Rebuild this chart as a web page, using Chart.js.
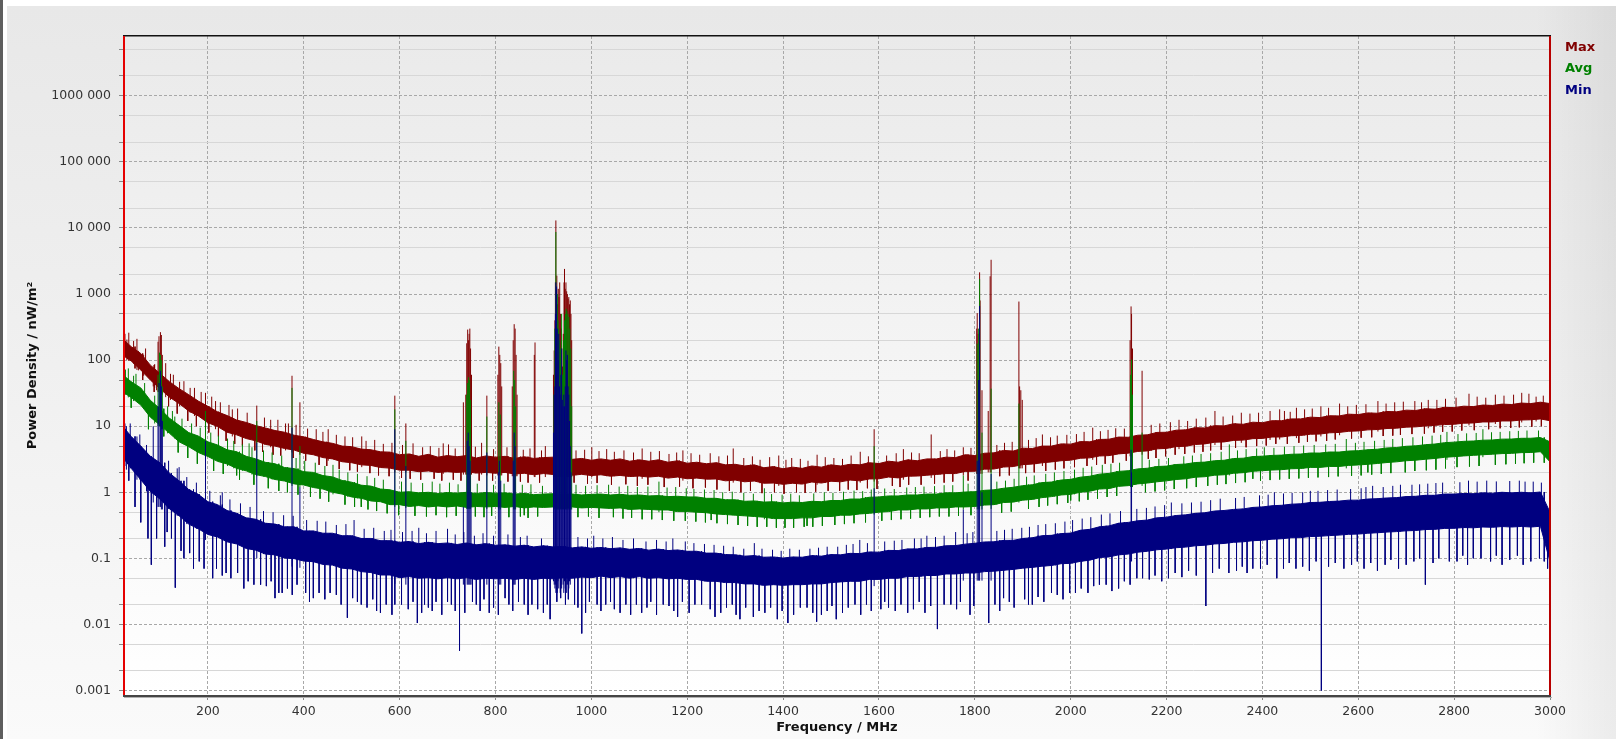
<!DOCTYPE html>
<html><head><meta charset="utf-8">
<script src="https://cdn.jsdelivr.net/npm/chart.js@4.4.0/dist/chart.umd.min.js"></script>
<style>
html,body{margin:0;padding:0;width:1616px;height:739px;overflow:hidden;background:#fff;}
#edge{position:absolute;left:0;top:0;width:3px;height:739px;background:#5e5e5e;}
#panel{position:absolute;left:7px;top:6px;right:0;bottom:0;
 background:linear-gradient(to right, rgba(0,0,0,0) 95%, rgba(0,0,0,0.06) 100%), linear-gradient(to bottom,#e8e8e8 0%,#f1f1f1 55%,#fafafa 100%);}
canvas{position:absolute;left:0;top:0;}
.leg{position:absolute;left:1565px;font:bold 13px "DejaVu Sans";line-height:15px;white-space:nowrap;}
</style></head><body>
<div id="edge"></div><div id="panel"></div>
<canvas id="c" width="1616" height="739"></canvas>
<div class="leg" style="top:39px;color:#800000">Max</div>
<div class="leg" style="top:60px;color:#008000">Avg</div>
<div class="leg" style="top:82px;color:#000080">Min</div>
<script>
// ---- band sample frequencies (MHz)
const bandFreqs = [25,40,60,80,100,120,140,160,180,200,220,240,260,280,300,320,340,360,380,400,420,440,460,480,500,520,540,560,580,600,620,640,660,680,700,720,740,760,780,800,820,840,860,880,900,920,940,960,980,1000,1020,1040,1060,1080,1100,1120,1140,1160,1180,1200,1220,1240,1260,1280,1300,1320,1340,1360,1380,1400,1420,1440,1460,1480,1500,1520,1540,1560,1580,1600,1620,1640,1660,1680,1700,1720,1740,1760,1780,1800,1820,1840,1860,1880,1900,1920,1940,1960,1980,2000,2020,2040,2060,2080,2100,2120,2140,2160,2180,2200,2220,2240,2260,2280,2300,2320,2340,2360,2380,2400,2420,2440,2460,2480,2500,2520,2540,2560,2580,2600,2620,2640,2660,2680,2700,2720,2740,2760,2780,2800,2820,2840,2860,2880,2900,2920,2940,2960,2980,3000];

// ---- Max series: solid core of the noise band, upper / lower edge (nW/m²)
const maxHi = [200,160,126,84,63, 47,37,30,24,20, 16.5,14.5,12.4,11.4,10.2, 9.4,8.6,8.1,7.3,6.9, 6.3,5.8,5.5,5.0,4.9, 4.5,4.4,4.1,4.05,3.7,
 3.8,3.5,3.75,3.4,3.6, 3.45,3.6,3.3,3.55,3.4, 3.5,3.25,3.45,3.25,3.35, 3.4,3.3,3.15,3.25,3.05, 3.2,3.05,3.2,2.95,3.1, 2.95,3.1,2.85,3.0,2.75,
 2.85,2.7,2.8,2.6,2.65, 2.5,2.6,2.35,2.45,2.27, 2.4,2.3,2.5,2.4,2.6, 2.5,2.65,2.6,2.8,2.72, 2.95,2.85,3.1,3.0,3.2, 3.2,3.4,3.35,3.7,3.6,
 3.9,3.95,4.3,4.2,4.65, 4.6,5.0,5.0,5.4,5.35, 5.85,5.8,6.3,6.35,6.85, 6.8,7.3,7.4,8.05,8.1, 8.7,8.8,9.5,9.4,10.2, 10.1,10.9,10.7,11.5,11.3,
 12.1,12.1,12.9,12.9,13.7, 13.5,14.4,14.3,15.2,15.0, 15.9,15.7,16.7,16.5,17.5, 17.3,18.4,18.1,19.3,19.1, 20.1,19.8,20.9,20.6,21.6, 21.3,22.4,22.0,23.1,22.0];
const maxLo = [115,97,71,50,37, 27.5,22,17,14.3,11.3, 9.9,8.1,7.4,6.5,6.0, 5.3,5.0,4.6,4.35,3.9, 3.7,3.35,3.2,2.9,2.8, 2.6,2.55,2.37,2.32,2.16,
 2.16,2.05,2.1,2.0,2.05, 2.0,2.05,1.95,2.0,1.94, 2.0,1.89,1.94,1.84,1.92, 1.86,1.89,1.81,1.87,1.79, 1.84,1.75,1.8,1.73,1.76, 1.7,1.75,1.64,1.7,1.6,
 1.64,1.58,1.59,1.49,1.53, 1.44,1.48,1.37,1.38,1.32, 1.37,1.33,1.43,1.38,1.47, 1.44,1.53,1.49,1.59,1.6, 1.7,1.65,1.75,1.76,1.81, 1.86,1.92,1.92,2.07,2.08,
 2.24,2.25,2.41,2.45,2.62, 2.67,2.79,2.88,3.0,3.06, 3.27,3.32,3.54,3.59,3.81, 3.91,4.15,4.23,4.54,4.61, 4.91,4.97,5.29,5.4,5.72, 5.78,6.1,6.16,6.48,6.53,
 6.86,6.86,7.18,7.24,7.56, 7.61,7.94,8.05,8.37,8.48, 8.8,8.91,9.23,9.34,9.67, 9.77,10.1,10.3,10.6,10.7, 11.1,11.2,11.6,11.6,12.0, 12.0,12.4,12.5,12.9,12.1];

// ---- Avg series core band
const avgHi = [58,47,38,24.6,18.4, 13.2,10.3,8.0,7.1,5.8, 5.2,4.4,4.1,3.5,3.2, 2.84,2.7,2.37,2.28,2.05, 2.0,1.79,1.71,1.51,1.42, 1.28,1.24,1.12,1.09,1.0,
 1.02,0.98,1.0,0.96,0.99, 0.97,1.0,0.96,0.99,0.97, 0.98,0.94,0.96,0.92,0.94, 0.95,0.92,0.94,0.91,0.93, 0.94,0.91,0.93,0.9,0.91, 0.88,0.89,0.86,0.87,0.85,
 0.85,0.81,0.81,0.77,0.77, 0.73,0.74,0.71,0.72,0.69, 0.71,0.7,0.73,0.72,0.75, 0.75,0.79,0.79,0.84,0.85, 0.88,0.88,0.91,0.91,0.94, 0.94,0.98,0.98,1.01,1.02,
 1.07,1.09,1.15,1.19,1.26, 1.3,1.4,1.43,1.53,1.57, 1.69,1.75,1.88,1.93,2.07, 2.12,2.26,2.31,2.45,2.49, 2.63,2.68,2.82,2.86,3.0, 3.05,3.24,3.28,3.47,3.52,
 3.61,3.65,3.76,3.79,3.93, 3.92,4.07,4.06,4.21,4.26, 4.4,4.48,4.69,4.76,4.97, 5.04,5.25,5.37,5.63,5.74, 5.9,5.97,6.14,6.19,6.37, 6.39,6.56,6.57,6.74,5.8];
const avgLo = [32,27.3,20.9,13.7,10.4, 7.8,5.8,4.9,4.0,3.48, 2.94,2.68,2.3,2.11,1.85, 1.73,1.56,1.48,1.34,1.29, 1.18,1.12,1.0,0.94,0.85, 0.81,0.74,0.72,0.65,0.65,
 0.61,0.63,0.6,0.62,0.6, 0.62,0.59,0.61,0.6,0.61, 0.59,0.61,0.58,0.6,0.59, 0.6,0.58,0.6,0.58,0.59, 0.58,0.57,0.58,0.55,0.56, 0.55,0.54,0.54,0.51,0.51,
 0.5,0.49,0.47,0.46,0.45, 0.44,0.43,0.42,0.4,0.4, 0.4,0.41,0.41,0.43,0.43, 0.45,0.45,0.47,0.48,0.5, 0.51,0.54,0.54,0.56,0.56, 0.58,0.58,0.6,0.6,0.61,
 0.64,0.65,0.7,0.71,0.76, 0.78,0.83,0.86,0.91,0.93, 1.0,1.04,1.12,1.14,1.23, 1.26,1.34,1.38,1.44,1.49, 1.56,1.6,1.69,1.72,1.81, 1.84,1.94,1.98,2.08,2.12,
 2.17,2.2,2.27,2.29,2.38, 2.38,2.46,2.46,2.55,2.59, 2.65,2.73,2.82,2.89,3.0, 3.06,3.16,3.25,3.38,3.46, 3.55,3.62,3.7,3.77,3.85, 3.88,3.98,4.0,4.11,2.9];

// ---- Min series core band
const minHi = [9.5,7.0,5.0,3.5,2.8, 1.94,1.49,1.1,0.93,0.72, 0.65,0.53,0.48,0.41,0.39, 0.34,0.33,0.3,0.3,0.26, 0.26,0.24,0.24,0.22,0.22, 0.2,0.2,0.185,0.185,0.175,
 0.18,0.167,0.175,0.167,0.171, 0.162,0.171,0.16,0.167,0.158, 0.16,0.153,0.158,0.149,0.155, 0.149,0.151,0.144,0.149,0.142, 0.146,0.14,0.144,0.137,0.141, 0.133,0.138,0.131,0.134,0.128,
 0.128,0.12,0.12,0.114,0.113, 0.108,0.11,0.104,0.105,0.101, 0.105,0.104,0.11,0.108,0.114, 0.113,0.119,0.118,0.125,0.124, 0.132,0.131,0.139,0.139,0.146, 0.147,0.155,0.156,0.164,0.169,
 0.177,0.178,0.187,0.187,0.2, 0.205,0.22,0.223,0.237,0.241, 0.266,0.275,0.3,0.31,0.34, 0.35,0.37,0.38,0.41,0.42, 0.445,0.455,0.48,0.49,0.52, 0.53,0.55,0.56,0.59,0.6,
 0.625,0.635,0.66,0.67,0.7, 0.705,0.725,0.735,0.76,0.76, 0.79,0.8,0.82,0.83,0.86, 0.87,0.9,0.9,0.94,0.94, 0.96,0.95,0.98,0.97,1.0, 0.98,1.0,0.98,1.01,0.5];
const minLo = [3.2,2.3,1.55,1.03,0.79, 0.56,0.44,0.33,0.28,0.23, 0.21,0.178,0.165,0.141,0.133, 0.116,0.113,0.101,0.099,0.091, 0.089,0.081,0.079,0.071,0.069, 0.063,0.061,0.056,0.056,0.051,
 0.053,0.05,0.051,0.049,0.051, 0.049,0.051,0.048,0.05,0.049, 0.05,0.048,0.05,0.048,0.05, 0.049,0.051,0.05,0.052,0.051, 0.054,0.051,0.053,0.05,0.053, 0.05,0.051,0.049,0.05,0.048,
 0.048,0.045,0.045,0.043,0.043, 0.041,0.041,0.039,0.04,0.039, 0.04,0.04,0.041,0.041,0.043, 0.044,0.045,0.045,0.048,0.048, 0.05,0.05,0.053,0.053,0.055, 0.055,0.058,0.058,0.06,0.06,
 0.063,0.064,0.066,0.068,0.071, 0.073,0.076,0.078,0.083,0.084, 0.09,0.094,0.103,0.105,0.113, 0.116,0.124,0.128,0.135,0.138, 0.145,0.148,0.155,0.158,0.165, 0.168,0.175,0.178,0.185,0.188,
 0.195,0.198,0.205,0.206,0.214, 0.216,0.221,0.225,0.231,0.233, 0.24,0.244,0.25,0.254,0.261, 0.264,0.273,0.275,0.284,0.285, 0.293,0.29,0.298,0.295,0.303, 0.298,0.304,0.298,0.306,0.09];

// ---- narrow peaks: [frequency MHz, from value, to value]
const maxPeaks = [[27,110,250],[31,100,205],[45,88,195],[55,70,138],[66,58,120],
 [86,40,70],[89,38,87],[93,35,60],[96,33,190],[98,33,230],[101,32,265],[103,31,240],[105,30,120],
 [122,25,62],[141,20,47],[163,16,38],[195,10,32],[216,9,24],[251,7,18],[302,5.5,20.5],[331,4.8,12.5],[362,4.3,11],[375.5,4,58],[392,3.7,23],[451,3,9],[521,2.4,7],[590,2,29],[613,2,11],[691,1.9,5.5],
 [733,1.85,23],[738,1.85,30],[740,1.85,180],[742,1.85,290],[743.5,1.85,200],[745,1.85,250],[746.5,1.85,300],[748,1.85,150],[750,1.85,60],[771,1.85,5.6],[782,1.8,29],
 [805,1.8,60],[807,1.8,160],[809,1.8,120],[811,1.8,90],[813,1.8,40],[835,1.75,40],[837,1.75,200],[839,1.75,350],[841,1.75,300],[843,1.75,120],[845,1.75,30],[881,1.7,120],[882.5,1.7,185],[904,1.7,5],
 [921,1.7,60],[922.5,1.7,140],[924,1.7,400],[925,1.7,1500],[926,1.7,13000],[927,1.7,900],[928,1.7,1900],[929.5,1.7,700],[931,1.7,1200],[932.5,1.7,900],[934,1.7,1500],[935.5,1.7,500],[937,1.7,300],[938.5,1.7,150],[940,1.7,80],[941.5,1.7,250],[943,1.7,1500],[944,1.7,2400],[945.5,1.7,1200],[947,1.7,1500],[948.5,1.7,1100],[950,1.7,1000],[951.5,1.7,850],[953,1.7,900],[954.5,1.7,700],[956,1.7,800],[957.5,1.7,500],[959,1.7,200],
 [1001,1.7,4.8],[1106,1.6,4.6],[1191,1.5,4.3],[1296,1.4,4.6],[1391,1.25,3.6],[1471,1.3,3.7],[1561,1.4,4.1],[1590,1.45,9],[1651,1.55,4.5],[1709,1.65,7.5],[1776,1.8,4.8],
 [1804,1.9,300],[1805,1.9,515],[1807,1.9,250],[1810,1.9,2130],[1811,1.9,800],[1815,1.9,35],[1828,2,17],[1832,2,1860],[1834,2,3300],[1892,2.3,770],[1893.5,2.3,40],[1896,2.3,35],[1899,2.3,25],
 [1941,2.5,7.5],[2046,3.1,9.5],[2124,3.5,200],[2126,3.5,650],[2127,3.5,500],[2129,3.5,150],[2149,3.7,69],[2226,4.5,12.5],[2301,5.2,17],[2356,5.6,16],[2416,6.2,17],[2436,6.3,18],[2471,6.6,19],[2522,7,20],[2561,7.3,22],[2641,8.3,24],[2746,9.3,25],[2831,10.3,31],[2886,10.8,30],[2941,11.4,32],[2971,11.8,28]];

const avgPeaks = [[28,30,72],[45,24,58],[89,11,29],[96,10,60],[99,10,130],[101,10,120],[103,9,100],[105,9,40],
 [131,6.5,14],[195,3.2,17],[241,2.5,6.5],[286,2,5.5],[302,1.75,12],[375.5,1.25,38],[392,1.2,5],[461,0.93,2.6],[590,0.6,18],[613,0.58,6],
 [740,0.56,30],[742,0.56,45],[744,0.56,55],[746,0.56,50],[748,0.56,25],[782,0.56,14],[807,0.55,23],[810,0.55,15],[838,0.55,69],[840,0.55,50],[842,0.55,20],
 [922,0.55,30],[924,0.55,300],[926,0.55,8700],[927.5,0.55,1200],[929,0.55,1000],[930.5,0.55,400],[932,0.55,300],[934,0.55,200],[936,0.55,150],[938,0.55,500],[940,0.55,60],[942,0.55,200],[944,0.55,400],[946,0.55,500],[947.5,0.55,600],[949,0.55,550],[951,0.55,500],[953,0.55,450],[955,0.55,300],[957,0.55,150],[959,0.55,20],
 [1141,0.5,1.45],[1361,0.39,1.15],[1590,0.46,5],[1776,0.55,1.8],[1805,0.55,178],[1808,0.55,300],[1810,0.55,1690],[1815,0.55,8],[1834,0.56,37],[1892,0.7,22],
 [2125,1.2,60],[2127,1.2,102],[2129,1.2,30],[2149,1.25,8],[2331,1.8,5.3],[2575,2.3,6.4],[2785,3.1,8.2],[2860,3.4,9]];

const minPeaks = [[27,2.5,11],[30,2.2,10],[86,0.7,10],[96,0.6,20],[98,0.6,45],[101,0.6,69],[103,0.55,40],[105,0.55,12],
 [195,0.19,6],[302,0.1,5.6],[375.5,0.075,9.5],[392,0.072,1.2],[590,0.041,9],[613,0.04,2.5],[733,0.04,0.6],[741,0.04,6],[743,0.04,8],[745,0.04,5],[747,0.04,3],[749,0.04,1],[782,0.04,4],[806,0.04,2],[808,0.04,3],[811,0.04,1.5],[837,0.04,3],[839,0.04,8],[841,0.04,5],
 [921,0.045,8],[922.5,0.04,30],[924,0.035,40],[925,0.04,500],[926,0.03,1500],[927.5,0.04,1300],[929,0.03,300],[930.5,0.045,100],[932,0.035,250],[933.5,0.05,40],[935,0.03,30],[936.5,0.04,60],[938,0.035,150],[939.5,0.05,25],[941,0.04,20],[942.5,0.03,30],[944,0.045,20],[945.5,0.035,40],[947,0.04,140],[948.5,0.03,100],[950,0.04,120],[951.5,0.05,40],[953,0.035,30],[954.5,0.045,12],[956,0.04,5],[957.5,0.05,2],
 [1590,0.038,1.15],[1776,0.046,0.55],[1805,0.046,3],[1808,0.046,50],[1810,0.046,660],[1815,0.046,1],[1834,0.046,1.9],[2126,0.09,4.4],[2127,0.09,2]];

// ---- noise hairs: [frequency MHz, tip value]
const maxHairUp = [[35,260],[52,210],[70,150],[112,90],[128,60],[150,48],[172,38],[186,33],[208,28],[226,23],[244,21],[262,18.5],[282,16],[318,13.5],[346,12.5],[368,11],[384,10.5],
 [408,9.2],[426,9],[440,8.2],[468,7.4],[486,7],[502,6.8],[530,6],[548,6.2],[566,5.4],[584,5.6],[606,5.2],[628,5.5],[648,4.8],[664,5],[682,4.7],[702,5.3],[716,4.6],[758,4.9],[796,4.5],[824,4.8],[858,4.4],[872,4.6],[896,4.3],
 [968,4.3],[986,4.4],[1016,4.2],[1032,4.5],[1048,4.1],[1068,4.3],[1088,4.0],[1124,4.1],[1142,4.2],[1162,3.8],[1178,4.0],[1208,3.9],[1226,3.7],[1248,3.9],[1266,3.5],[1284,3.6],[1318,3.3],[1336,3.5],[1352,3.1],[1372,3.4],[1406,3.1],[1418,3.3],
 [1436,3.2],[1452,3.0],[1488,3.4],[1506,3.3],[1524,3.2],[1542,3.6],[1578,3.5],[1616,3.6],[1636,3.9],[1668,4.0],[1684,3.9],[1728,4.2],[1742,4.5],[1758,4.3],[1792,4.7],
 [1846,5.2],[1862,5.6],[1878,5.8],[1912,6.2],[1928,6.6],[1958,6.8],[1972,7.2],[1992,7.4],[2012,7.6],[2028,8.2],[2062,8.4],[2078,8.8],[2094,9.3],[2112,9.2],[2168,10.5],[2186,11],[2208,11.5],
 [2244,12],[2262,13],[2282,13.5],[2318,14],[2338,14.5],[2374,15.5],[2392,16],[2446,17],[2458,16.5],[2488,18],[2504,18.5],[2538,19],[2578,20],[2596,21],[2616,21.5],[2658,22],[2676,23],[2694,23.5],[2718,24],[2732,23],[2764,25],[2782,26],[2804,27],[2848,28],[2866,27],[2904,29],[2924,30],[2956,31],[2986,29]];
const maxHairDown = [[48,75],[64,50],[88,33],[118,20],[136,15.5],[158,12],[176,10],[202,8],[222,7],[238,6],[256,5.4],[272,5.1],[298,4.3],[314,4.1],[336,3.7],[352,3.6],[378,3.3],[404,3],[432,2.6],[448,2.5],[474,2.25],[496,2.15],[512,2.05],[538,1.95],[556,1.8],[578,1.75],
 [604,1.65],[622,1.6],[644,1.55],[672,1.6],[688,1.5],[712,1.55],[728,1.5],[766,1.5],[794,1.5],[826,1.45],[852,1.45],[868,1.4],[892,1.4],[964,1.4],[992,1.35],[1012,1.38],[1042,1.3],[1072,1.32],[1096,1.25],[1118,1.3],[1152,1.2],[1184,1.22],[1212,1.15],[1238,1.18],[1262,1.1],[1288,1.05],
 [1312,1.0],[1332,1.05],[1356,0.97],[1382,1.0],[1402,0.95],[1428,1.0],[1446,0.98],[1468,1.02],[1494,1.05],[1518,1.05],[1536,1.1],[1554,1.08],[1576,1.15],[1596,1.12],[1628,1.25],[1644,1.2],[1662,1.3],[1688,1.3],[1716,1.35],[1736,1.4],[1754,1.45],[1786,1.5],
 [1852,1.75],[1872,1.8],[1906,1.95],[1924,2.0],[1948,2.1],[1968,2.2],[1986,2.3],[2008,2.4],[2034,2.5],[2054,2.6],[2072,2.7],[2088,2.8],[2116,3.0],[2162,3.2],[2178,3.3],[2198,3.5],[2218,3.7],[2238,3.8],[2258,4.0],[2276,4.1],[2292,4.3],[2314,4.4],[2344,4.7],[2366,4.8],[2388,5.0],
 [2408,5.1],[2428,5.4],[2452,5.4],[2476,5.6],[2494,5.8],[2512,5.9],[2534,6.0],[2552,6.3],[2586,6.5],[2606,6.7],[2628,6.8],[2652,7.1],[2672,7.2],[2688,7.4],[2712,7.6],[2738,7.7],[2758,8.0],[2776,8.2],[2796,8.3],[2816,8.6],[2842,8.7],[2872,9.0],[2896,9.3],[2918,9.4],[2936,9.6],[2962,9.8],[2982,10]];

const avgHairUp = [[34,75],[50,62],[68,45],[116,20],[126,17],[146,13],[166,11],[184,9.5],[206,8],[222,7.2],[254,6],[272,5.3],[292,4.8],[316,4.3],[334,4],[354,3.6],[384,3.3],[402,3.0],[424,2.8],[444,2.5],[474,2.2],[492,2.0],[512,1.9],[532,1.75],[548,1.65],[566,1.55],
 [604,1.45],[624,1.4],[648,1.38],[668,1.45],[684,1.35],[704,1.4],[722,1.32],[762,1.35],[796,1.3],[818,1.35],[856,1.3],[874,1.32],[898,1.25],[968,1.3],[988,1.25],[1012,1.28],[1036,1.3],[1058,1.22],[1076,1.25],[1096,1.2],[1118,1.22],[1158,1.18],[1176,1.2],[1198,1.15],
 [1214,1.12],[1236,1.1],[1256,1.08],[1274,1.0],[1294,1.02],[1318,0.98],[1338,0.95],[1376,0.94],[1398,0.92],[1416,0.95],[1434,0.9],[1464,0.96],[1486,1.0],[1504,0.98],[1526,1.02],[1548,1.06],[1566,1.04],[1584,1.1],[1612,1.14],[1632,1.12],[1658,1.18],[1676,1.2],[1694,1.22],[1716,1.24],[1736,1.28],[1754,1.28],[1786,1.35],
 [1846,1.45],[1864,1.5],[1882,1.6],[1908,1.72],[1924,1.8],[1948,1.9],[1966,2.0],[1986,2.1],[2008,2.2],[2026,2.35],[2044,2.45],[2066,2.6],[2084,2.7],[2102,2.8],[2164,3.1],[2184,3.2],[2204,3.3],[2236,3.5],[2254,3.6],[2272,3.8],[2292,3.9],[2314,4.1],[2348,4.3],[2366,4.5],[2388,4.6],
 [2404,4.8],[2424,4.7],[2446,4.9],[2466,5.0],[2486,5.1],[2508,5.2],[2532,5.3],[2552,5.4],[2594,5.6],[2612,5.8],[2634,6.0],[2654,6.2],[2672,6.4],[2692,6.6],[2714,6.8],[2734,7.0],[2754,7.2],[2772,7.4],[2808,7.6],[2826,7.8],[2846,7.9],[2878,8.1],[2896,8.2],[2916,8.4],[2934,8.5],[2952,8.6],[2976,8.6]];
const avgHairDown = [[40,19],[76,9],[108,7],[138,4],[158,3.3],[178,2.7],[212,2.1],[232,1.9],[260,1.8],[266,1.55],[296,1.3],[326,1.15],[348,1.05],[366,1.0],[388,0.92],[414,0.85],[434,0.8],[452,0.72],[486,0.65],[506,0.6],[520,0.6],[534,0.55],[552,0.52],[574,0.48],[598,0.45],
 [632,0.44],[656,0.43],[676,0.45],[698,0.42],[718,0.44],[758,0.43],[776,0.42],[792,0.44],[828,0.42],[852,0.43],[860,0.45],[868,0.41],[888,0.43],[972,0.42],[994,0.43],[1016,0.41],[1046,0.42],[1066,0.4],[1084,0.41],[1106,0.39],[1126,0.39],[1148,0.38],[1172,0.37],[1196,0.37],
 [1218,0.36],[1238,0.35],[1250,0.38],[1262,0.34],[1284,0.33],[1306,0.32],[1326,0.31],[1346,0.3],[1366,0.3],[1386,0.29],[1404,0.29],[1422,0.29],[1444,0.3],[1450,0.31],[1462,0.3],[1482,0.31],[1508,0.32],[1528,0.33],[1548,0.34],[1572,0.35],[1606,0.37],[1626,0.38],[1646,0.39],[1666,0.4],
 [1686,0.41],[1706,0.42],[1726,0.43],[1746,0.43],[1766,0.44],[1792,0.45],[1856,0.49],[1876,0.51],[1912,0.56],[1934,0.6],[1952,0.63],[1972,0.66],[1994,0.69],[2000,0.75],[2018,0.73],[2036,0.77],[2056,0.8],[2076,0.85],[2096,0.88],[2156,1.0],[2176,1.03],[2196,1.07],[2216,1.12],
 [2242,1.15],[2262,1.2],[2286,1.25],[2306,1.3],[2324,1.33],[2344,1.38],[2364,1.42],[2380,1.6],[2396,1.5],[2416,1.53],[2436,1.56],[2456,1.6],[2476,1.62],[2496,1.66],[2516,1.68],[2538,1.7],[2558,1.74],[2586,1.78],[2606,1.8],[2620,2.0],[2628,1.85],[2648,1.9],[2668,1.95],
 [2698,2.0],[2718,2.1],[2742,2.15],[2762,2.2],[2782,2.3],[2806,2.4],[2832,2.45],[2852,2.5],[2886,2.6],[2908,2.65],[2928,2.7],[2946,2.75],[2966,2.8],[2988,2.8]];

const minHairUp = [[38,11],[52,7],[58,7.5],[72,5.2],[118,3],[136,2.3],[140,2.4],[156,1.7],[176,1.4],[204,1.05],[226,0.9],[230,1.0],[246,0.78],[268,0.68],[288,0.6],[316,0.52],[336,0.5],[358,0.45],[378,0.44],[406,0.38],[428,0.37],[446,0.36],[468,0.32],[488,0.33],[505,0.38],
 [526,0.28],[546,0.29],[568,0.26],[582,0.27],[606,0.25],[626,0.26],[640,0.29],[656,0.24],[676,0.26],[700,0.28],[716,0.23],[734,0.25],[756,0.22],[774,0.24],[796,0.22],[826,0.23],[852,0.21],[866,0.22],[896,0.2],[972,0.21],[992,0.2],[1005,0.22],[1024,0.2],[1044,0.21],[1066,0.19],
 [1088,0.2],[1114,0.18],[1136,0.19],[1156,0.18],[1170,0.2],[1196,0.18],[1214,0.17],[1236,0.165],[1256,0.16],[1276,0.155],[1296,0.15],[1318,0.14],[1340,0.17],[1356,0.14],[1378,0.135],[1396,0.13],[1414,0.14],[1434,0.135],[1456,0.14],[1474,0.145],[1492,0.15],[1514,0.15],[1532,0.16],
 [1546,0.165],[1560,0.19],[1576,0.17],[1612,0.18],[1632,0.185],[1648,0.19],[1674,0.2],[1688,0.2],[1700,0.22],[1718,0.21],[1736,0.22],[1760,0.25],[1784,0.24],[1796,0.25],[1846,0.26],[1862,0.27],[1878,0.28],[1898,0.29],[1914,0.3],[1932,0.32],[1948,0.33],[1968,0.34],[1988,0.36],
 [2004,0.38],[2024,0.4],[2042,0.42],[2064,0.46],[2082,0.48],[2104,0.52],[2138,0.56],[2158,0.58],[2176,0.61],[2196,0.64],[2210,0.7],[2232,0.68],[2252,0.7],[2272,0.72],[2292,0.76],[2312,0.8],[2344,0.82],[2362,0.85],[2394,0.9],[2412,0.92],[2425,1.0],[2444,0.96],[2462,0.98],
 [2484,1.0],[2500,1.05],[2516,1.05],[2536,1.08],[2556,1.1],[2584,1.12],[2606,1.15],[2616,1.2],[2630,1.25],[2652,1.2],[2672,1.25],[2688,1.3],[2712,1.3],[2728,1.32],[2745,1.35],[2762,1.38],[2776,1.4],[2812,1.42],[2830,1.5],[2848,1.45],[2868,1.5],[2888,1.46],[2916,1.48],[2936,1.5],[2948,1.45],[2965,1.45],[2982,1.4]];
const minHairDown = [[35,1.5],[48,0.6],[60,0.35],[75,0.2],[82,0.08],[93,0.2],[110,0.15],[115,0.25],[124,0.2],[132,0.036],[144,0.13],[150,0.1],[162,0.12],[170,0.07],[182,0.09],[192,0.07],[210,0.05],[218,0.07],[230,0.055],[238,0.06],[248,0.05],[262,0.06],[275,0.035],[284,0.045],[296,0.04],
 [310,0.04],[322,0.038],[332,0.045],[340,0.025],[348,0.03],[355,0.03],[366,0.035],[376,0.028],[386,0.04],[404,0.03],[412,0.022],[420,0.025],[432,0.03],[444,0.024],[455,0.03],[468,0.028],[478,0.02],[491,0.0126],[502,0.025],[512,0.022],[520,0.02],[532,0.018],[544,0.024],[552,0.016],[560,0.015],[572,0.02],[584,0.014],[590,0.02],
 [604,0.02],[618,0.017],[628,0.022],[637,0.0105],[646,0.015],[652,0.02],[660,0.018],[668,0.016],[676,0.022],[688,0.014],[700,0.022],[708,0.02],[716,0.016],[725,0.004],[736,0.015],[752,0.022],[760,0.02],[768,0.016],[776,0.024],[787,0.015],[796,0.018],[806,0.014],[820,0.025],[828,0.02],[836,0.016],[848,0.022],
 [860,0.02],[868,0.014],[876,0.02],[888,0.017],[900,0.015],[908,0.02],[914,0.012],[928,0.022],[936,0.025],[946,0.02],[952,0.024],[965,0.02],[972,0.018],[980,0.0073],[988,0.015],[996,0.022],
 [1012,0.02],[1020,0.016],[1030,0.02],[1040,0.022],[1048,0.017],[1060,0.015],[1072,0.02],[1082,0.014],[1094,0.02],[1105,0.015],[1116,0.018],[1124,0.022],[1136,0.014],[1150,0.02],[1162,0.019],[1172,0.016],[1180,0.013],[1190,0.022],[1204,0.015],[1216,0.02],[1230,0.02],[1248,0.017],[1258,0.013],[1270,0.015],
 [1282,0.018],[1294,0.02],[1302,0.014],[1310,0.012],[1322,0.018],[1338,0.013],[1350,0.016],[1362,0.015],[1374,0.018],[1388,0.012],[1398,0.016],[1410,0.0105],[1422,0.014],[1436,0.018],[1450,0.018],[1462,0.015],[1470,0.011],[1480,0.014],[1492,0.016],[1502,0.019],[1511,0.012],
 [1524,0.015],[1536,0.018],[1550,0.02],[1562,0.014],[1574,0.02],[1584,0.016],[1604,0.017],[1612,0.022],[1620,0.018],[1634,0.016],[1646,0.02],[1660,0.015],[1672,0.017],[1684,0.022],[1696,0.015],[1708,0.019],[1722,0.0085],[1736,0.02],[1750,0.02],[1762,0.017],[1770,0.022],[1790,0.014],[1798,0.019],
 [1829,0.0105],[1842,0.02],[1852,0.016],[1860,0.025],[1872,0.022],[1882,0.018],[1904,0.024],[1912,0.02],[1920,0.02],[1932,0.026],[1944,0.022],[1960,0.03],[1972,0.028],[1984,0.024],[1998,0.03],
 [2010,0.03],[2022,0.035],[2036,0.03],[2048,0.038],[2060,0.04],[2074,0.04],[2086,0.032],[2100,0.035],[2112,0.045],[2124,0.04],[2138,0.05],[2150,0.05],[2164,0.048],[2176,0.055],[2190,0.045],[2204,0.05],[2218,0.06],[2232,0.052],[2246,0.065],[2262,0.055],[2282,0.019],[2296,0.06],
 [2310,0.07],[2330,0.06],[2346,0.065],[2358,0.075],[2368,0.06],[2380,0.07],[2396,0.07],[2410,0.08],[2430,0.05],[2444,0.07],[2456,0.085],[2470,0.07],[2484,0.075],[2498,0.065],[2512,0.09],[2523,0.001],[2538,0.075],[2552,0.085],[2570,0.07],[2586,0.08],[2598,0.09],[2612,0.07],[2626,0.085],
 [2640,0.065],[2656,0.08],[2668,0.095],[2684,0.07],[2700,0.08],[2716,0.09],[2728,0.1],[2740,0.04],[2756,0.085],[2768,0.1],[2790,0.09],[2806,0.09],[2818,0.11],[2828,0.08],[2840,0.1],[2856,0.1],[2876,0.09],[2888,0.11],[2900,0.08],[2916,0.095],[2932,0.11],[2944,0.08],[2960,0.09],[2978,0.1],[2988,0.09],[2995,0.07]];

// ---- axis ticks
const xTickValues = [200,400,600,800,1000,1200,1400,1600,1800,2000,2200,2400,2600,2800,3000];
const yDecades = [0.001,0.01,0.1,1,10,100,1000,10000,100000,1000000];
const yTickLabels = ['0.001','0.01','0.1','1','10','100','1 000','10 000','100 000','1000 000'];
const yMinorTicks = [0.002,0.005,0.02,0.05,0.2,0.5,2,5,20,50,200,500,2000,5000,20000,50000,200000,500000,2000000,5000000];

const COL = {max:'#800000', avg:'#008000', min:'#000080'};
const FONT = 'DejaVu Sans';

function nearest(f){ let b=0; for(let i=1;i<bandFreqs.length;i++){ if(Math.abs(bandFreqs[i]-f)<Math.abs(bandFreqs[b]-f)) b=i; } return b; }
function band(vals){ return bandFreqs.map((f,i)=>({x:f, y:vals[i]})); }
function segs(peaks, hairsUp, lo, hairsDown, hi){
  const out=[];
  peaks.forEach(s=>out.push({x:s[0],y:s[1]},{x:s[0],y:s[2]},{x:s[0],y:null}));
  hairsUp.forEach(h=>out.push({x:h[0],y:lo[nearest(h[0])]},{x:h[0],y:h[1]},{x:h[0],y:null}));
  hairsDown.forEach(h=>out.push({x:h[0],y:hi[nearest(h[0])]},{x:h[0],y:h[1]},{x:h[0],y:null}));
  return out;
}
function ds(label, data, color, order, fill){
  return {label, data, borderColor:color, backgroundColor:color, borderWidth:1, pointRadius:0, tension:0, fill:fill||false, order, spanGaps:false};
}

const framePlugin = {
  id:'framePlugin',
  beforeDraw(chart){
    const {ctx, chartArea:a} = chart;
    const g = ctx.createLinearGradient(0,a.top,0,a.bottom);
    g.addColorStop(0,'#eaeaea'); g.addColorStop(1,'#ffffff');
    ctx.save(); ctx.fillStyle=g; ctx.fillRect(a.left,a.top,a.right-a.left,a.bottom-a.top); ctx.restore();
  },
  afterDatasetsDraw(chart){
    const {ctx, chartArea:a} = chart;
    ctx.save();
    ctx.fillStyle='#111'; ctx.fillRect(a.left-1, a.top-1, a.right-a.left+2, 1.5);
    ctx.fillStyle='#b0b0b0'; ctx.fillRect(a.left, a.bottom+2, a.right-a.left+2, 1);
    ctx.fillStyle='#444'; ctx.fillRect(a.left-1, a.bottom, a.right-a.left+2, 2);
    ctx.fillStyle='#e50000'; ctx.fillRect(a.left-1, a.top, 2, a.bottom-a.top);
    ctx.fillStyle='#b80000'; ctx.fillRect(a.right-1, a.top, 2, a.bottom-a.top);
    ctx.restore();
  }
};

const isDec = v => yDecades.includes(v);

new Chart(document.getElementById('c'), {
  type:'line',
  data:{ datasets:[
    ds('Max', band(maxHi), COL.max, 3, '+1'),
    ds('Max low', band(maxLo), COL.max, 3),
    ds('Max spikes', segs(maxPeaks, maxHairUp, maxLo, maxHairDown, maxHi), COL.max, 3),
    ds('Avg', band(avgHi), COL.avg, 2, '+1'),
    ds('Avg low', band(avgLo), COL.avg, 2),
    ds('Avg spikes', segs(avgPeaks, avgHairUp, avgLo, avgHairDown, avgHi), COL.avg, 2),
    ds('Min', band(minHi), COL.min, 1, '+1'),
    ds('Min low', band(minLo), COL.min, 1),
    ds('Min spikes', segs(minPeaks, minHairUp, minLo, minHairDown, minHi), COL.min, 1)
  ]},
  options:{
    responsive:false, animation:false, events:[],
    layout:{padding:{left:8, top:36, right:66, bottom:0}},
    plugins:{legend:{display:false}, tooltip:{enabled:false}, filler:{propagate:false}},
    scales:{
      x:{
        type:'linear', min:25, max:3000,
        afterBuildTicks: s => { s.ticks = xTickValues.map(v=>({value:v})); },
        afterFit: s => { s.height = 44; },
        ticks:{color:'#333', font:{family:FONT, size:12.5}, padding:4, maxRotation:0, autoSkip:false, callback:v=>String(v)},
        grid:{color:'#a8a8a8', lineWidth:1, tickLength:5, tickColor:'#888'},
        border:{display:false, dash: c => c.type==='tick' ? [3,2] : []},
        title:{display:true, text:'Frequency / MHz', color:'#111', font:{family:FONT, size:13, weight:'bold'}, padding:{top:0, bottom:4}}
      },
      y:{
        type:'logarithmic', min:0.000855, max:8.04e6,
        afterBuildTicks: s => { s.ticks = yDecades.concat(yMinorTicks).sort((a,b)=>a-b).map(v=>({value:v})); },
        afterFit: s => { s.width = 116; },
        ticks:{color:'#333', font:{family:FONT, size:12.5}, padding:8, autoSkip:false,
          callback: v => { const i = yDecades.indexOf(v); return i>=0 ? yTickLabels[i] : ''; }},
        grid:{color: c => (c.tick && isDec(c.tick.value)) ? '#a8a8a8' : '#d7d7d7', lineWidth:1, tickLength:5, tickColor:'#888'},
        border:{display:false, dash: c => (c.type==='tick' && c.tick && isDec(c.tick.value)) ? [3,2] : []},
        title:{display:true, text:'Power Density / nW/m²', color:'#111', font:{family:FONT, size:13, weight:'bold'}, padding:{top:17, bottom:0}}
      }
    }
  },
  plugins:[framePlugin]
});
</script>
</body></html>
